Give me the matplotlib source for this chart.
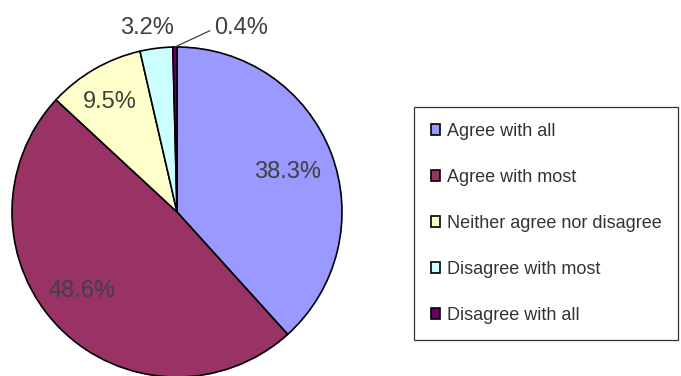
import numpy as np
import matplotlib.pyplot as plt
from matplotlib.patches import Patch

plt.rcParams['font.family'] = ['Liberation Sans', 'DejaVu Sans']

categories = ['Agree with all', 'Agree with most', 'Neither agree nor disagree',
              'Disagree with most', 'Disagree with all']
shares = [38.3, 48.6, 9.5, 3.2, 0.4]
colors = ['#9999ff', '#993366', '#ffffcc', '#ccffff', '#660066']

# radial distance / angular nudge for each percentage label
label_r = [0.71, 0.75, 0.78, 1.13, 1.18]
label_dtheta = [-1.3, -5.0, 1.5, 2.1, -20.2]
text_color = '#404040'

fig = plt.figure(figsize=(6.81, 3.76), dpi=100)
ax = fig.add_axes([12 / 681, -1 / 376, 330 / 681, 330 / 376])

wedges, _ = ax.pie(shares, colors=colors, startangle=90, counterclock=False,
                   radius=1, wedgeprops=dict(edgecolor='black', linewidth=1.2))
ax.set_xlim(-1, 1)
ax.set_ylim(-1, 1)
ax.set_aspect('equal')
ax.axis('off')
for w in wedges:
    w.set_clip_on(False)

for i, (w, v) in enumerate(zip(wedges, shares)):
    mid = (w.theta1 + w.theta2) / 2
    ang = np.deg2rad(mid + label_dtheta[i])
    tx, ty = label_r[i] * np.cos(ang), label_r[i] * np.sin(ang)
    txt = f'{v:.1f}%'
    if i == len(shares) - 1:
        ex, ey = np.cos(np.deg2rad(mid)), np.sin(np.deg2rad(mid))
        ax.annotate(txt, xy=(ex, ey), xytext=(tx - 0.17, ty), ha='left', va='center',
                    fontsize=17, color=text_color, annotation_clip=False,
                    arrowprops=dict(arrowstyle='-', color='#404040', lw=0.9,
                                    shrinkA=1, shrinkB=0, relpos=(0, 0.5),
                                    connectionstyle='angle,angleA=0,angleB=25,rad=0'))
    else:
        ax.text(tx, ty, txt, ha='center', va='center', fontsize=17, color=text_color,
                clip_on=False)

handles = [Patch(facecolor=c, edgecolor='black', linewidth=1.2) for c in colors]
leg = fig.legend(handles, categories, loc='center', bbox_to_anchor=(546 / 681, 1 - 223.5 / 376),
                 fontsize=13, frameon=True, fancybox=False, handlelength=0.55,
                 handleheight=0.55, handletextpad=0.35, labelspacing=1.6,
                 borderpad=0.9, borderaxespad=0)
leg.get_frame().set_edgecolor('black')
leg.get_frame().set_linewidth(0.9)
for t in leg.get_texts():
    t.set_color('#333333')

fig.savefig('out.png', dpi=100)
